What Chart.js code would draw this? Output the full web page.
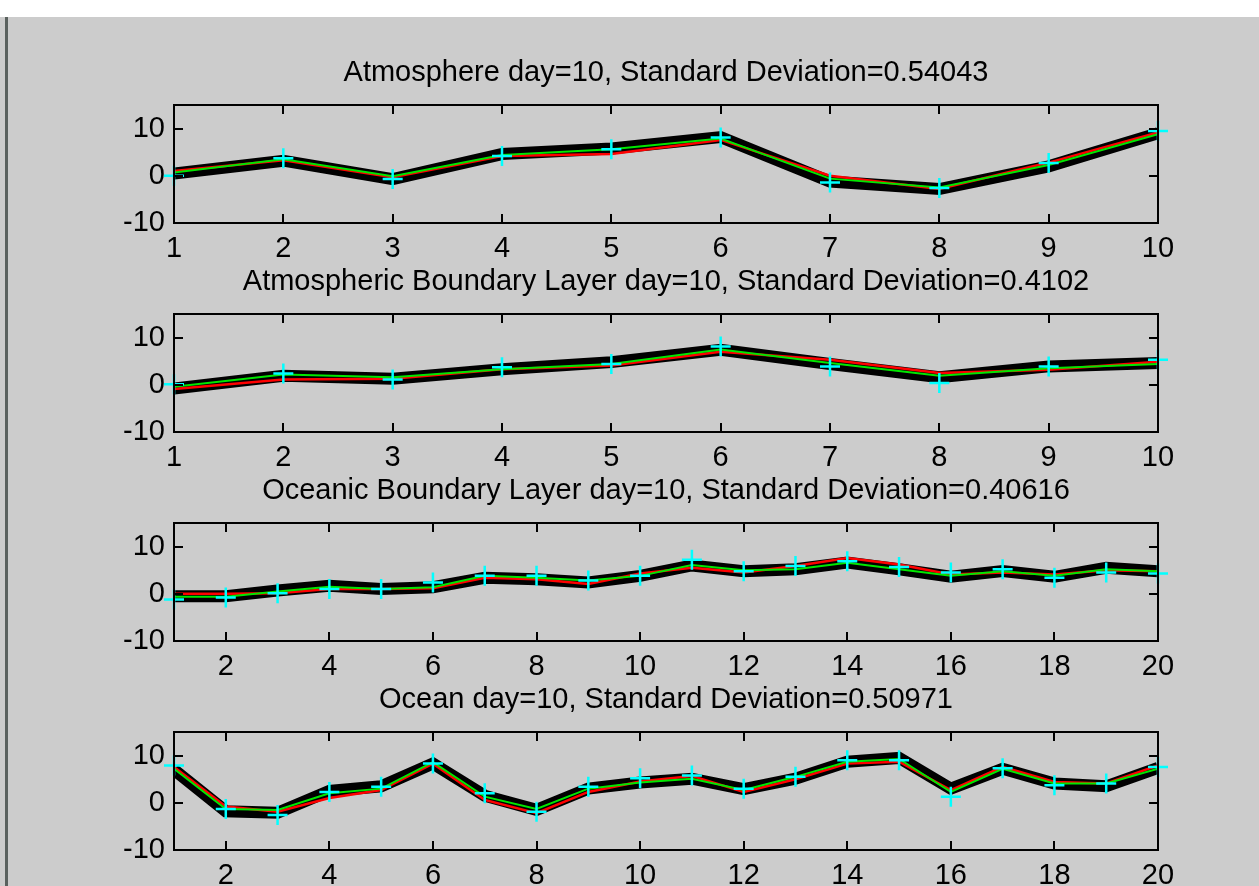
<!DOCTYPE html>
<html>
<head>
<meta charset="utf-8">
<script src="https://cdn.jsdelivr.net/npm/chart.js@4.4.1/dist/chart.umd.min.js"></script>
<style>
  html, body { margin: 0; padding: 0; }
  body { width: 1259px; height: 886px; background: #cccccc; position: relative; overflow: hidden; }
  #topStrip { position: absolute; left: 0; top: 0; width: 1259px; height: 17px; background: #ffffff; }
  #frameEdge { position: absolute; left: 5px; top: 17px; width: 3px; height: 869px; background: #5a615e; }
  canvas.panel { position: absolute; left: 0; }
</style>
</head>
<body>
<div id="topStrip"></div>
<div id="frameEdge"></div>
<canvas class="panel" id="atm"></canvas>
<canvas class="panel" id="abl"></canvas>
<canvas class="panel" id="obl"></canvas>
<canvas class="panel" id="ocn"></canvas>
<script>
// Shared axis ticks
const yTicks = [-10, 0, 10];
const yMin = -10, yMax = 15;

// Atmosphere (10 grid points)
const atmSteps = [1, 2, 3, 4, 5, 6, 7, 8, 9, 10];
const atmTicks = [1, 2, 3, 4, 5, 6, 7, 8, 9, 10];
const atmEns   = [0.5, 3.2, -0.7, 4.6, 5.8, 8.2, -1.2, -2.8, 2.0, 9.0];
const atmTruth = [1.0, 3.3, -0.3, 4.2, 4.6, 7.6, 0.0, -2.8, 2.8, 9.2];
const atmMean  = [0.7, 3.5, -0.1, 4.4, 5.6, 7.9, -0.6, -2.5, 2.3, 8.8];
const atmObs   = [0.0, 3.7, -0.7, 4.2, 5.6, 8.1, -1.4, -2.6, 2.7, 9.5];

// Atmospheric boundary layer (10 grid points)
const ablSteps = [1, 2, 3, 4, 5, 6, 7, 8, 9, 10];
const ablTicks = [1, 2, 3, 4, 5, 6, 7, 8, 9, 10];
const ablEns   = [-0.8, 1.9, 1.3, 3.3, 4.8, 7.4, 4.4, 1.6, 3.9, 4.6];
const ablTruth = [-0.9, 1.1, 1.3, 3.3, 4.1, 7.0, 5.3, 2.5, 3.2, 4.9];
const ablMean  = [-0.4, 2.2, 1.6, 3.3, 4.4, 7.5, 4.6, 1.9, 3.5, 4.4];
const ablObs   = [0.1, 2.4, 1.1, 3.7, 4.4, 8.1, 3.9, 0.4, 3.9, 5.3];

// Oceanic boundary layer (20 grid points)
const oblSteps = [1, 2, 3, 4, 5, 6, 7, 8, 9, 10, 11, 12, 13, 14, 15, 16, 17, 18, 19, 20];
const oblTicks = [2, 4, 6, 8, 10, 12, 14, 16, 18, 20];
const oblEns   = [-0.5, -0.5, 0.7, 1.7, 1.0, 1.4, 3.4, 3.1, 2.4, 3.8, 6.0, 4.8, 5.2, 6.6, 5.2, 3.6, 4.8, 3.6, 5.5, 4.8];
const oblTruth = [0.0, 0.0, 0.1, 1.0, 1.0, 1.2, 3.4, 3.1, 2.1, 4.3, 5.5, 4.5, 5.9, 7.6, 6.2, 4.1, 4.5, 4.1, 5.0, 4.8];
const oblMean  = [-0.6, -0.6, 0.5, 1.5, 1.0, 1.4, 3.8, 3.4, 2.8, 3.8, 6.1, 5.0, 5.2, 6.6, 5.2, 3.8, 4.8, 3.8, 5.2, 4.8];
const oblObs   = [-1.2, -0.8, 0.1, 1.0, 1.0, 2.4, 3.8, 3.8, 2.8, 3.8, 7.2, 4.8, 5.9, 6.9, 5.7, 4.5, 5.2, 3.4, 4.5, 4.3];

// Ocean (20 grid points)
const ocnSteps = [1, 2, 3, 4, 5, 6, 7, 8, 9, 10, 11, 12, 13, 14, 15, 16, 17, 18, 19, 20];
const ocnTicks = [2, 4, 6, 8, 10, 12, 14, 16, 18, 20];
const ocnEns   = [7.0, -1.8, -2.1, 2.5, 3.5, 8.3, 1.5, -1.5, 3.0, 4.3, 5.1, 2.9, 5.1, 8.7, 9.5, 3.0, 7.2, 4.1, 3.5, 7.4];
const ocnTruth = [7.6, -0.8, -1.9, 1.0, 2.7, 8.3, 0.6, -2.2, 2.3, 4.5, 5.7, 2.3, 5.0, 8.3, 8.7, 2.7, 7.6, 4.4, 4.1, 7.9];
const ocnMean  = [7.2, -1.3, -1.5, 2.0, 3.0, 8.6, 1.3, -1.3, 3.0, 4.3, 5.1, 2.7, 5.5, 8.7, 9.3, 2.3, 7.2, 4.1, 4.1, 7.2];
const ocnObs   = [7.9, -1.3, -2.6, 2.3, 3.4, 8.3, 2.0, -1.9, 3.4, 5.2, 5.8, 3.0, 5.5, 9.0, 9.0, 1.3, 7.3, 3.7, 4.1, 7.6];

const FONT = '"Liberation Sans", Arial, sans-serif';
const PLOT_LEFT = 174, PLOT_RIGHT = 1158, PAGE_W = 1259;
const TOP_PAD = 60, X_AXIS_H = 45;

function toPoints(xs, ys) {
  return xs.map((x, i) => ({ x: x, y: ys[i] }));
}

// Box, inward ticks on all four sides and the panel title
const matlabAxes = {
  id: 'matlabAxes',
  afterDatasetsDraw(chart, args, opts) {
    const { ctx, chartArea: a, scales } = chart;
    const tickLen = 9;
    ctx.save();
    ctx.strokeStyle = '#000';
    ctx.lineWidth = 2;
    ctx.beginPath();
    scales.x.ticks.forEach(t => {
      const px = Math.round(scales.x.getPixelForValue(t.value));
      ctx.moveTo(px, a.bottom); ctx.lineTo(px, a.bottom - tickLen);
      ctx.moveTo(px, a.top); ctx.lineTo(px, a.top + tickLen);
    });
    scales.y.ticks.forEach(t => {
      const py = Math.round(scales.y.getPixelForValue(t.value));
      ctx.moveTo(a.left, py); ctx.lineTo(a.left + tickLen, py);
      ctx.moveTo(a.right, py); ctx.lineTo(a.right - tickLen, py);
    });
    ctx.stroke();
    ctx.strokeRect(a.left, a.top, a.right - a.left, a.bottom - a.top);

    ctx.fillStyle = '#000';
    ctx.font = '29px ' + FONT;
    ctx.textAlign = 'center';
    ctx.textBaseline = 'middle';
    ctx.fillText(opts.text, (a.left + a.right) / 2, a.top - 32);
    ctx.restore();
  }
};

function makePanel(id, top, title, steps, ticks, ens, truth, mean, obs) {
  const plotH = 118;
  const canvas = document.getElementById(id);
  const h = TOP_PAD + plotH + X_AXIS_H;
  canvas.style.top = (top - TOP_PAD) + 'px';
  canvas.style.width = PAGE_W + 'px';
  canvas.style.height = h + 'px';
  canvas.width = PAGE_W;
  canvas.height = h;

  return new Chart(canvas.getContext('2d'), {
    type: 'line',
    data: {
      datasets: [
        {
          label: 'observations',
          data: toPoints(steps, obs),
          showLine: false,
          pointStyle: 'cross',
          pointRadius: 10,
          pointBorderColor: '#00ffff',
          pointBorderWidth: 2.5,
          clip: false
        },
        {
          label: 'ensemble mean',
          data: toPoints(steps, mean),
          borderColor: '#00e600',
          borderWidth: 2,
          pointRadius: 0,
          tension: 0,
          clip: 0
        },
        {
          label: 'truth',
          data: toPoints(steps, truth),
          borderColor: '#ff0000',
          borderWidth: 2.5,
          pointRadius: 0,
          tension: 0,
          clip: 0
        },
        {
          label: 'ensemble',
          data: toPoints(steps, ens),
          borderColor: '#000000',
          borderWidth: 12,
          borderJoinStyle: 'miter',
          pointRadius: 0,
          tension: 0,
          clip: 0
        }
      ]
    },
    options: {
      responsive: false,
      animation: false,
      events: [],
      layout: { padding: { top: TOP_PAD, right: PAGE_W - PLOT_RIGHT, left: 0, bottom: 0 } },
      plugins: {
        legend: { display: false },
        tooltip: { enabled: false },
        matlabAxes: { text: title }
      },
      scales: {
        x: {
          type: 'linear',
          min: steps[0],
          max: steps[steps.length - 1],
          afterBuildTicks: s => { s.ticks = ticks.map(v => ({ value: v })); },
          afterFit: s => { s.height = X_AXIS_H; },
          grid: { display: false, drawTicks: false },
          border: { display: false },
          ticks: { color: '#000', font: { family: FONT, size: 29 }, padding: 9, maxRotation: 0, autoSkip: false }
        },
        y: {
          min: yMin,
          max: yMax,
          afterBuildTicks: s => { s.ticks = yTicks.map(v => ({ value: v })); },
          afterFit: s => { s.width = PLOT_LEFT; },
          grid: { display: false, drawTicks: false },
          border: { display: false },
          ticks: { color: '#000', font: { family: FONT, size: 29 }, padding: 9 }
        }
      }
    },
    plugins: [matlabAxes]
  });
}

makePanel('atm', 105, 'Atmosphere day=10, Standard Deviation=0.54043',
  atmSteps, atmTicks, atmEns, atmTruth, atmMean, atmObs);
makePanel('abl', 314, 'Atmospheric Boundary Layer day=10, Standard Deviation=0.4102',
  ablSteps, ablTicks, ablEns, ablTruth, ablMean, ablObs);
makePanel('obl', 523, 'Oceanic Boundary Layer day=10, Standard Deviation=0.40616',
  oblSteps, oblTicks, oblEns, oblTruth, oblMean, oblObs);
makePanel('ocn', 732, 'Ocean day=10, Standard Deviation=0.50971',
  ocnSteps, ocnTicks, ocnEns, ocnTruth, ocnMean, ocnObs);
</script>
</body>
</html>
